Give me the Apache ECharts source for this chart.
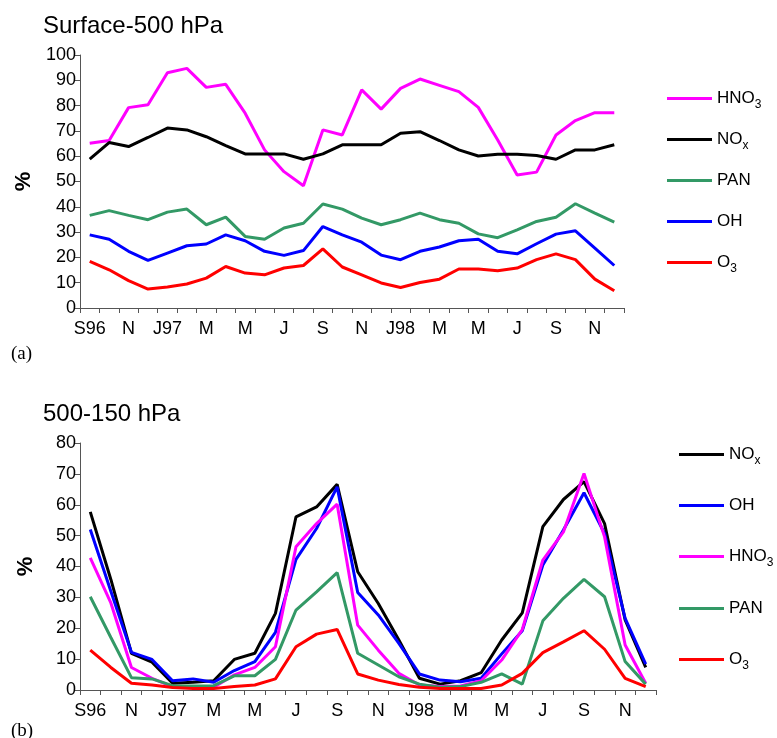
<!DOCTYPE html>
<html>
<head>
<meta charset="utf-8">
<script src="https://cdn.jsdelivr.net/npm/echarts@6/dist/echarts.min.js"></script>
<style>
html, body { margin: 0; padding: 0; background: #fff; }
#chart { width: 777px; height: 738px; }
</style>
</head>
<body>
<div id="chart"></div>
<script>
// months Sep 1996 - Dec 1998, labels every second month
const months = ['Sep96','Oct96','Nov96','Dec96','Jan97','Feb97','Mar97','Apr97','May97','Jun97','Jul97','Aug97',
    'Sep97','Oct97','Nov97','Dec97','Jan98','Feb98','Mar98','Apr98','May98','Jun98','Jul98','Aug98',
    'Sep98','Oct98','Nov98','Dec98'];
const tickLabels = ['S96','','N','','J97','','M','','M','','J','','S','','N','','J98','','M','','M','','J','','S','','N',''];

// (a) Surface-500 hPa
const hno3A = [65.1,66.2,79.2,80.3,93.0,94.7,87.2,88.4,77.0,62.5,53.9,48.3,70.4,68.4,86.2,78.6,86.8,90.5,88.0,85.5,79.3,66.4,52.6,53.7,68.4,74.1,77.2,77.2];
const noxA  = [58.8,65.4,63.8,67.4,71.1,70.4,67.7,64.2,60.9,60.9,60.9,58.8,60.9,64.5,64.5,64.5,69.1,69.7,66.2,62.5,60.1,60.8,60.8,60.3,58.8,62.5,62.5,64.5];
const panA  = [36.6,38.5,36.6,34.9,37.9,39.1,32.9,35.9,28.3,27.2,31.6,33.5,41.1,39.1,35.5,32.9,34.9,37.5,34.9,33.5,29.3,27.8,30.9,34.2,35.9,41.2,37.5,33.9];
const ohA   = [28.9,27.2,22.4,18.8,21.7,24.6,25.3,28.9,26.6,22.4,20.8,22.7,32.2,28.9,26.0,20.9,19.1,22.4,24.1,26.6,27.2,22.4,21.4,25.4,29.2,30.5,23.7,16.8];
const o3A   = [18.4,15.1,10.8,7.5,8.3,9.5,11.8,16.4,13.8,13.1,15.8,16.8,23.4,16.2,13.1,9.9,8.1,10.1,11.4,15.4,15.4,14.7,15.8,19.1,21.4,19.1,11.4,6.8];

// (b) 500-150 hPa
const noxB  = [57.7,35.8,11.9,9.0,2.2,2.5,3.0,9.9,11.9,24.8,56.1,59.3,66.6,38.3,28.0,16.2,3.8,1.9,3.0,5.6,16.2,25.0,52.9,61.7,67.5,53.9,22.7,7.3];
const ohB   = [52.0,32.0,12.2,9.9,3.0,3.6,2.5,6.3,9.2,18.7,42.3,52.3,65.8,31.6,24.3,15.1,5.2,3.2,2.7,3.8,11.7,19.2,40.5,51.8,63.9,50.7,23.2,8.4];
const hno3B = [42.8,28.2,7.3,3.8,1.1,0.9,0.9,4.9,7.3,14.0,46.4,53.9,60.2,21.0,12.9,5.4,1.6,1.1,1.3,3.0,9.7,19.6,42.1,51.2,70.1,49.6,14.6,2.2];
const panB  = [30.2,17.0,4.0,3.6,1.4,1.3,1.4,4.6,4.6,9.9,25.9,31.8,38.0,11.9,8.1,4.3,1.9,0.9,1.1,2.5,5.2,1.9,22.4,29.7,35.8,30.2,9.2,1.9];
const o3B   = [12.9,7.3,2.2,1.6,0.8,0.5,0.5,1.1,1.6,3.6,14.0,18.1,19.6,5.2,3.2,1.8,0.9,0.5,0.5,0.5,1.6,5.4,12.1,15.6,19.2,13.2,3.8,1.1];

const colors = { HNO3: '#ff00ff', NOx: '#000000', PAN: '#339966', OH: '#0000ff', O3: '#ff0000' };
const legendA = ['HNO3', 'NOx', 'PAN', 'OH', 'O3'];
const legendB = ['NOx', 'OH', 'HNO3', 'PAN', 'O3'];

const font = 'Arial, "Liberation Sans", sans-serif';
const myChart = echarts.init(document.getElementById('chart'));

function xAxis(gridIndex) {
    return {
        type: 'category',
        gridIndex: gridIndex,
        data: months,
        boundaryGap: true,
        axisLine: { lineStyle: { color: '#555', width: 1 } },
        axisTick: { show: true, interval: 0, length: 5, lineStyle: { color: '#555' } },
        axisLabel: {
            interval: 0, margin: 12, color: '#000', fontSize: 18, fontFamily: font,
            formatter: (v, i) => tickLabels[i]
        },
        splitLine: { show: false }
    };
}
function yAxis(gridIndex, max) {
    return {
        type: 'value',
        gridIndex: gridIndex,
        min: 0, max: max, interval: 10,
        name: '%',
        nameLocation: 'middle',
        nameRotate: 90,
        nameGap: 43,
        nameTextStyle: { fontSize: 22, fontWeight: 'bold', color: '#000', fontFamily: font },
        axisLine: { show: true, lineStyle: { color: '#555', width: 1 } },
        axisTick: { show: true, length: 5, lineStyle: { color: '#555' } },
        axisLabel: { margin: 4, color: '#000', fontSize: 18, fontFamily: font },
        splitLine: { show: false }
    };
}
function line(name, data, idx) {
    return {
        name: name, type: 'line', data: data,
        xAxisIndex: idx, yAxisIndex: idx,
        symbol: 'none', smooth: false,
        lineStyle: { width: 3, color: colors[name] },
        itemStyle: { color: colors[name] },
        animation: false
    };
}
function legendLabel(name) {
    if (name === 'HNO3') return '{m|HNO}{s|3}';
    if (name === 'NOx') return '{m|NO}{s|x}';
    if (name === 'O3') return '{m|O}{s|3}';
    return '{m|' + name + '}';
}
function legends(names, left, tops) {
    return names.map((n, i) => ({
        data: [n],
        left: left,
        top: tops[i] - 7,
        padding: 0,
        orient: 'vertical',
        icon: 'rect',
        itemWidth: 45,
        itemHeight: 3,
        itemGap: 4,
        selectedMode: false,
        formatter: legendLabel,
        textStyle: {
            rich: {
                m: { fontSize: 17, color: '#000', fontFamily: font, lineHeight: 24, verticalAlign: 'middle' },
                s: { fontSize: 12, color: '#000', fontFamily: font, lineHeight: 12, verticalAlign: 'bottom' }
            }
        }
    }));
}

myChart.setOption({
    backgroundColor: '#fff',
    animation: false,
    title: [
        { text: 'Surface-500 hPa', left: 38, top: 9, textStyle: { fontSize: 24, fontWeight: 'normal', color: '#000', fontFamily: font } },
        { text: '500-150 hPa', left: 38, top: 397, textStyle: { fontSize: 24, fontWeight: 'normal', color: '#000', fontFamily: font } }
    ],
    grid: [
        { left: 80, top: 55, width: 544, height: 253 },
        { left: 80, top: 443, width: 576, height: 247 }
    ],
    xAxis: [xAxis(0), xAxis(1)],
    yAxis: [yAxis(0, 100), yAxis(1, 80)],
    legend: legends(legendA, 667, [97, 138, 179, 220, 261]).concat(legends(legendB, 679, [453, 504, 555, 607, 658])),
    graphic: [
        { type: 'text', left: 11, top: 345, style: { text: '(a)', fontSize: 19, fontFamily: '"Times New Roman", "Liberation Serif", serif', fill: '#000' } },
        { type: 'text', left: 11, top: 722, style: { text: '(b)', fontSize: 19, fontFamily: '"Times New Roman", "Liberation Serif", serif', fill: '#000' } }
    ],
    series: [
        line('HNO3', hno3A, 0),
        line('NOx', noxA, 0),
        line('PAN', panA, 0),
        line('OH', ohA, 0),
        line('O3', o3A, 0),
        line('NOx', noxB, 1),
        line('OH', ohB, 1),
        line('HNO3', hno3B, 1),
        line('PAN', panB, 1),
        line('O3', o3B, 1)
    ]
});

window.addEventListener('resize', function () {
    myChart.resize();
});
</script>
</body>
</html>
